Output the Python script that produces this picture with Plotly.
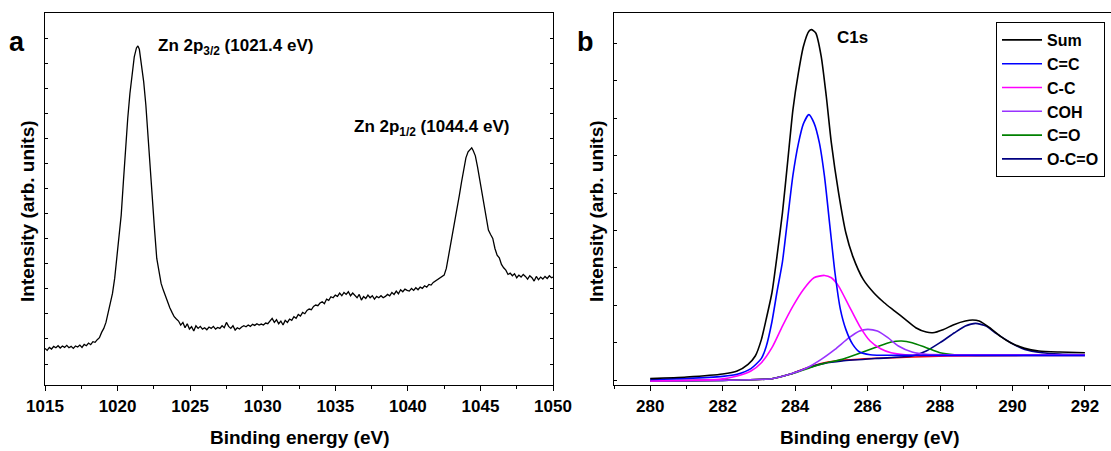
import plotly.graph_objects as go

# ---------------- Panel a : Zn 2p spectrum ----------------
zn_energy = [
    1015.00, 1015.15, 1015.30, 1015.45, 1015.60, 1015.75, 1015.90, 1016.05, 1016.20, 1016.35,
    1016.50, 1016.65, 1016.80, 1016.95, 1017.10, 1017.25, 1017.40, 1017.55, 1017.70, 1017.85,
    1018.00, 1018.15, 1018.30, 1018.45, 1018.60, 1018.75, 1018.90, 1019.05, 1019.20, 1019.35,
    1019.50, 1019.65, 1019.80, 1019.95, 1020.10, 1020.25, 1020.40, 1020.55, 1020.70, 1020.85,
    1021.00, 1021.15, 1021.30, 1021.40, 1021.50, 1021.65, 1021.80, 1021.95, 1022.10, 1022.25,
    1022.40, 1022.55, 1022.70, 1022.85, 1023.00, 1023.15, 1023.30, 1023.45, 1023.60, 1023.75,
    1023.90, 1024.05, 1024.20, 1024.35, 1024.50, 1024.65, 1024.80, 1024.95, 1025.10, 1025.25,
    1025.40, 1025.55, 1025.70, 1025.85, 1026.00, 1026.15, 1026.30, 1026.45, 1026.60, 1026.75,
    1026.90, 1027.05, 1027.20, 1027.35, 1027.50, 1027.65, 1027.80, 1027.95, 1028.10, 1028.25,
    1028.40, 1028.55, 1028.70, 1028.85, 1029.00, 1029.15, 1029.30, 1029.45, 1029.60, 1029.75,
    1029.90, 1030.05, 1030.20, 1030.35, 1030.50, 1030.65, 1030.80, 1030.95, 1031.10, 1031.25,
    1031.40, 1031.55, 1031.70, 1031.85, 1032.00, 1032.15, 1032.30, 1032.45, 1032.60, 1032.75,
    1032.90, 1033.05, 1033.20, 1033.35, 1033.50, 1033.65, 1033.80, 1033.95, 1034.10, 1034.25,
    1034.40, 1034.55, 1034.70, 1034.85, 1035.00, 1035.15, 1035.30, 1035.45, 1035.60, 1035.75,
    1035.90, 1036.05, 1036.20, 1036.35, 1036.50, 1036.65, 1036.80, 1036.95, 1037.10, 1037.25,
    1037.40, 1037.55, 1037.70, 1037.85, 1038.00, 1038.15, 1038.30, 1038.45, 1038.60, 1038.75,
    1038.90, 1039.05, 1039.20, 1039.35, 1039.50, 1039.65, 1039.80, 1039.95, 1040.10, 1040.25,
    1040.40, 1040.55, 1040.70, 1040.85, 1041.00, 1041.15, 1041.30, 1041.45, 1041.60, 1041.75,
    1041.90, 1042.05, 1042.20, 1042.35, 1042.50, 1042.65, 1042.80, 1042.95, 1043.10, 1043.25,
    1043.40, 1043.55, 1043.70, 1043.85, 1044.00, 1044.15, 1044.30, 1044.40, 1044.50, 1044.65,
    1044.80, 1044.95, 1045.10, 1045.25, 1045.40, 1045.55, 1045.70, 1045.85, 1046.00, 1046.15,
    1046.30, 1046.45, 1046.60, 1046.75, 1046.90, 1047.05, 1047.20, 1047.35, 1047.50, 1047.65,
    1047.80, 1047.95, 1048.10, 1048.25, 1048.40, 1048.55, 1048.70, 1048.85, 1049.00, 1049.15,
    1049.30, 1049.45, 1049.60, 1049.75, 1049.90, 1050.00,
]
zn_intensity = [
    110, 104, 113, 108, 116, 112, 118, 111, 117, 113,
    119, 112, 116, 110, 117, 114, 120, 113, 122, 118,
    126, 121, 130, 128, 136, 142, 158, 170, 188, 215,
    240, 275, 320, 385, 440, 510, 610, 710, 800, 875,
    935, 985, 1012, 1018, 1008, 965, 910, 840, 740, 650,
    555, 465, 380, 335, 305, 285, 265, 248, 232, 218,
    205, 198, 192, 180, 188, 172, 184, 168, 175, 162,
    178, 170, 176, 168, 172, 166, 174, 170, 176, 168,
    173, 170, 178, 172, 188, 176, 170, 178, 165, 172,
    168, 174, 178, 175, 180, 176, 182, 179, 184, 180,
    183, 180, 186, 184, 194, 200, 188, 196, 184, 192,
    180, 194, 188, 198, 194, 205, 200, 212, 207, 218,
    214, 224, 228, 226, 236, 240, 238, 246, 250, 244,
    258, 254, 265, 262, 270, 266, 276, 268, 278, 272,
    280, 268, 276, 270, 262, 272, 255, 266, 260, 270,
    262, 268, 258, 266, 262, 268, 262, 266, 272, 268,
    278, 272, 282, 274, 286, 280, 288, 284, 282, 290,
    284, 292, 286, 294, 290, 298, 294, 302, 300, 308,
    312, 316, 320, 324, 330, 350, 385, 425, 465, 500,
    535, 570, 610, 648, 682, 700, 708, 712, 704, 688,
    655, 615, 575, 540, 495, 465, 452, 440, 410, 390,
    382, 362, 352, 345, 332, 336, 328, 334, 322, 330,
    324, 332, 326, 318, 328, 322, 312, 326, 316, 324,
    318, 326, 320, 328, 322, 324,
]

# ---------------- Panel b : C1s fit ----------------
sum_energy = [280, 281, 282, 282.4, 282.7, 282.9, 283.07, 283.2, 283.36, 283.5, 283.65, 283.8,
              283.94, 284.09, 284.23, 284.38, 284.45, 284.57, 284.72, 284.86, 285.0, 285.2,
              285.4, 285.59, 285.88, 286.17, 286.46, 286.75, 287.04, 287.33, 287.62, 287.8,
              288.1, 288.4, 288.7, 288.9, 289.08, 289.37, 289.66, 289.95, 290.34, 290.73,
              291.3, 292]
sum_intensity = [19, 24, 33, 42, 62, 87, 137, 197, 277, 387, 517, 677,
                 827, 937, 1017, 1062, 1067, 1057, 987, 867, 727, 577,
                 457, 387, 317, 277, 247, 222, 197, 172, 159, 157,
                 167, 182, 192, 195, 192, 172, 147, 127, 110, 102,
                 99, 97]

cc_energy = [280, 281, 282, 282.4, 282.78, 283.07, 283.2, 283.36, 283.5, 283.65, 283.8, 283.94,
             284.09, 284.23, 284.38, 284.52, 284.67, 284.81, 284.96, 285.1, 285.25, 285.4,
             285.59, 285.78, 286.07, 286.75, 288, 290, 292]
cc_intensity = [17, 20, 26, 32, 49, 80, 115, 190, 280, 370, 505, 630,
                725, 785, 812, 787, 727, 627, 477, 337, 227, 167,
                122, 99, 91, 89, 89, 89, 89]

c_c_energy = [280, 281, 281.9, 282.4, 282.78, 283.07, 283.36, 283.65, 283.94, 284.23, 284.52,
              284.81, 285.0, 285.2, 285.49, 285.78, 286.07, 286.36, 286.65, 287.04, 288, 290, 292]
c_c_intensity = [12, 14, 17, 27, 42, 67, 112, 177, 237, 287, 322,
                 329, 322, 297, 237, 177, 132, 109, 97, 91, 89, 89, 89]

coh_energy = [280, 282, 283.36, 283.85, 284.33, 284.72, 285.1, 285.49, 285.78, 286.0, 286.27,
              286.56, 286.85, 287.23, 287.62, 288.5, 290, 292]
coh_intensity = [12, 14, 19, 32, 52, 77, 107, 142, 162, 167, 162,
                 142, 117, 99, 92, 91, 91, 91]

co_energy = [280, 282, 283.36, 283.85, 284.33, 284.81, 285.3, 285.78, 286.27, 286.65, 286.94,
             287.23, 287.62, 288.0, 288.4, 289, 290, 292]
co_intensity = [12, 14, 19, 32, 49, 65, 77, 95, 115, 129, 132,
                127, 112, 97, 91, 89, 89, 89]

oco_energy = [280, 282, 283.36, 283.85, 284.33, 284.81, 285.3, 286.27, 287.23, 287.62, 288.0,
              288.4, 288.7, 288.98, 289.27, 289.56, 289.95, 290.34, 290.82, 291.3, 292]
oco_intensity = [12, 14, 19, 32, 51, 65, 72, 80, 87, 102, 127,
                 157, 177, 185, 177, 154, 127, 107, 97, 93, 91]

bg_energy = [280, 282, 283.36, 283.85, 284.33, 284.81, 285.3, 286.27, 287.23, 288.2, 290.3, 292]
bg_intensity = [12, 14, 19, 32, 52, 67, 74, 80, 84, 87, 89, 90]

components = [
    ("Sum", sum_energy, sum_intensity, "#000000"),
    ("C=C", cc_energy, cc_intensity, "#0000FF"),
    ("C-C", c_c_energy, c_c_intensity, "#FF00FF"),
    ("COH", coh_energy, coh_intensity, "#9933FF"),
    ("C=O", co_energy, co_intensity, "#008000"),
    ("O-C=O", oco_energy, oco_intensity, "#000080"),
]

W, H = 1111, 451
FONT = "Liberation Sans, Arial, sans-serif"

def px(x):
    return x / W

def py(y):
    return 1 - y / H

fig = go.Figure()

fig.add_trace(go.Scatter(x=zn_energy, y=zn_intensity, mode="lines",
                         line=dict(color="black", width=1.3), showlegend=False,
                         xaxis="x", yaxis="y"))

fig.add_trace(go.Scatter(x=bg_energy, y=bg_intensity, mode="lines",
                         line=dict(color="#FF0000", width=1.5, shape="spline", smoothing=0.6),
                         showlegend=False, xaxis="x2", yaxis="y2"))
names = [c[0] for c in components]
for name, xs, ys, col in reversed(components):
    fig.add_trace(go.Scatter(x=xs, y=ys, mode="lines", name=name,
                             line=dict(color=col, width=1.6, shape="spline", smoothing=0.6),
                             xaxis="x2", yaxis="y2", legendrank=names.index(name)))

y_top, y_bot = 13, 385
ydom = [py(y_bot), py(y_top)]
xa_dom = [px(45), px(553)]
xb_dom = [px(614), 1.0]
xb_range = [279, 292.72]

tickfont = dict(family=FONT, size=17, color="black", weight="bold")
common_x = dict(showline=True, linecolor="black", linewidth=1.3, ticks="outside",
                ticklen=5, tickwidth=1.3, tickcolor="black", tickfont=tickfont,
                showgrid=False, zeroline=False)
common_y = dict(showline=True, linecolor="black", linewidth=1.3, ticks="inside",
                ticklen=3, tickwidth=1.1, tickcolor="black", showticklabels=False,
                showgrid=False, zeroline=False, range=[0, 1117])

fig.update_layout(
    width=W, height=H, margin=dict(l=0, r=0, t=0, b=0, autoexpand=False),
    paper_bgcolor="white", plot_bgcolor="white",
    xaxis=dict(domain=xa_dom, range=[1015, 1050], tick0=1015, dtick=5, anchor="y",
               minor=dict(dtick=2.5, ticklen=3, tickcolor="black", ticks="outside"),
               mirror=True, **common_x),
    yaxis=dict(domain=ydom, anchor="x", tick0=63, dtick=75.3, mirror="ticks", **common_y),
    xaxis2=dict(domain=xb_dom, range=xb_range, tick0=280, dtick=2, anchor="y2",
                minor=dict(dtick=1, ticklen=3, tickcolor="black", ticks="outside"),
                mirror=True, **common_x),
    yaxis2=dict(domain=ydom, anchor="x2", tick0=15, dtick=112.3, **common_y),
    xaxis3=dict(overlaying="x", side="top", range=[1015, 1050], tick0=1015, dtick=5,
                anchor="y", ticks="inside", ticklen=4, tickcolor="black", showticklabels=False,
                showline=False, showgrid=False, zeroline=False,
                minor=dict(dtick=2.5, ticklen=2, tickcolor="black", ticks="inside")),
    xaxis4=dict(overlaying="x2", side="top", range=xb_range, tick0=280, dtick=2,
                anchor="y2", ticks="inside", ticklen=4, tickcolor="black", showticklabels=False,
                showline=False, showgrid=False, zeroline=False,
                minor=dict(dtick=1, ticklen=2, tickcolor="black", ticks="inside")),
    legend=dict(x=px(996), y=py(22), xanchor="left", yanchor="top",
                bgcolor="white", bordercolor="black", borderwidth=1,
                font=dict(family=FONT, size=16, color="black", weight="bold"),
                tracegroupgap=0, itemwidth=40),
)

bold = dict(family=FONT, color="black", weight="bold")
ann = [
    dict(text="a", x=px(17), y=py(42), font=dict(size=27, **bold), xanchor="center", yanchor="middle"),
    dict(text="b", x=px(585), y=py(42), font=dict(size=27, **bold), xanchor="center", yanchor="middle"),
    dict(text="Zn 2p<sub>3/2</sub> (1021.4 eV)", x=px(156), y=py(47), font=dict(size=17, **bold),
         xanchor="left", yanchor="middle"),
    dict(text="Zn 2p<sub>1/2</sub> (1044.4 eV)", x=px(352), y=py(128), font=dict(size=17, **bold),
         xanchor="left", yanchor="middle"),
    dict(text="C1s", x=px(852), y=py(38), font=dict(size=17, **bold), xanchor="center", yanchor="middle"),
    dict(text="Binding energy (eV)", x=px(299), y=py(437), font=dict(size=19, **bold),
         xanchor="center", yanchor="middle"),
    dict(text="Binding energy (eV)", x=px(869), y=py(437), font=dict(size=19, **bold),
         xanchor="center", yanchor="middle"),
    dict(text="Intensity (arb. units)", x=px(28), y=py(211), font=dict(size=19, **bold),
         textangle=-90, xanchor="center", yanchor="middle"),
    dict(text="Intensity (arb. units)", x=px(597), y=py(211), font=dict(size=19, **bold),
         textangle=-90, xanchor="center", yanchor="middle"),
]
for a in ann:
    a.update(xref="paper", yref="paper", showarrow=False)
fig.update_layout(annotations=ann)

fig.write_html("out.html")
